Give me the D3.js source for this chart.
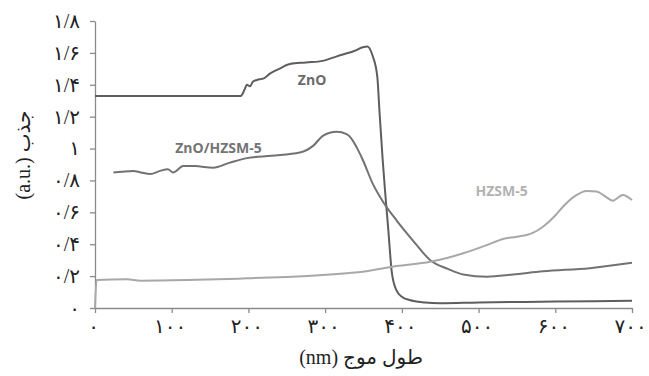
<!DOCTYPE html>
<html>
<head>
<meta charset="utf-8">
<script src="https://cdn.jsdelivr.net/npm/d3@7"></script>
<style>
  body { margin: 0; background: #fff; }
  .tick text { font-family: "Liberation Serif", "DejaVu Sans", serif; font-size: 20px; fill: #222; }
  .x-ax .tick text { letter-spacing: 4px; }
  .series-label { font-family: "Open Sans", Lato, sans-serif; font-weight: bold; font-size: 14px; }
</style>
</head>
<body>
<svg width="649" height="376"></svg>
<script>
// wavelength (nm) / absorbance (a.u.)
const znoX = [0, 190, 195, 198, 202, 206, 211, 220, 228, 240, 254, 275, 297, 310, 323, 337, 349, 355, 362, 368, 371, 375, 378, 382, 387, 393, 400, 410, 430, 450, 500, 600, 700];
const znoY = [1.33, 1.33, 1.37, 1.40, 1.39, 1.42, 1.43, 1.44, 1.47, 1.50, 1.53, 1.54, 1.55, 1.57, 1.59, 1.61, 1.635, 1.64, 1.58, 1.45, 1.22, 0.93, 0.74, 0.51, 0.22, 0.11, 0.07, 0.05, 0.035, 0.03, 0.035, 0.04, 0.045];

const compX = [24, 35, 50, 60, 72, 85, 95, 102, 115, 130, 154, 175, 198, 230, 267, 285, 297, 315, 328, 336, 343, 349, 362, 375, 393, 415, 437, 460, 480, 511, 545, 584, 645, 700];
const compY = [0.85, 0.855, 0.86, 0.85, 0.84, 0.86, 0.87, 0.85, 0.89, 0.89, 0.88, 0.91, 0.94, 0.955, 0.975, 1.02, 1.08, 1.105, 1.09, 1.05, 0.99, 0.93, 0.78, 0.67, 0.55, 0.42, 0.30, 0.245, 0.21, 0.196, 0.21, 0.23, 0.25, 0.284];

const hzsmX = [0, 2, 42, 59, 120, 198, 250, 297, 332, 349, 393, 437, 460, 480, 511, 532, 550, 570, 584, 600, 610, 625, 641, 654, 665, 675, 688, 700];
const hzsmY = [0, 0.175, 0.18, 0.171, 0.175, 0.186, 0.195, 0.207, 0.22, 0.228, 0.263, 0.29, 0.315, 0.343, 0.395, 0.433, 0.447, 0.47, 0.51, 0.58, 0.635, 0.70, 0.734, 0.73, 0.70, 0.673, 0.709, 0.677];

const xTicks = [0, 100, 200, 300, 400, 500, 600, 700];
const xTickLabels = ["۰", "۱۰۰", "۲۰۰", "۳۰۰", "۴۰۰", "۵۰۰", "۶۰۰", "۷۰۰"];
const yTicks = [0, 0.2, 0.4, 0.6, 0.8, 1, 1.2, 1.4, 1.6, 1.8];
const yTickLabels = ["۰", "۰/۲", "۰/۴", "۰/۶", "۰/۸", "۱", "۱/۲", "۱/۴", "۱/۶", "۱/۸"];

const seriesNames = ["ZnO", "ZnO/HZSM-5", "HZSM-5"];

const svg = d3.select("svg");
const x = d3.scaleLinear().domain([0, 700]).range([95, 632]);
const y = d3.scaleLinear().domain([0, 1.8]).range([308, 21]);

// axes
const xAxis = svg.append("g")
    .attr("class", "x-ax")
    .attr("transform", "translate(0,308)")
    .call(d3.axisBottom(x).tickValues(xTicks)
        .tickFormat((d, i) => xTickLabels[i])
        .tickSizeInner(5).tickSizeOuter(0).tickPadding(6));
const yAxis = svg.append("g")
    .attr("transform", "translate(95,0)")
    .call(d3.axisLeft(y).tickValues(yTicks)
        .tickFormat((d, i) => yTickLabels[i])
        .tickSizeInner(5).tickSizeOuter(0).tickPadding(10));
svg.selectAll(".domain, .tick line").attr("stroke", "#8a8a8a").attr("stroke-width", 1.3);
xAxis.selectAll("text").attr("dx", "-2");

// lines
const line = d3.line().x(d => x(d[0])).y(d => y(d[1])).curve(d3.curveMonotoneX);
const series = [
  { pts: d3.zip(znoX, znoY), color: "#5e5e5e" },
  { pts: d3.zip(compX, compY), color: "#727272" },
  { pts: d3.zip(hzsmX, hzsmY), color: "#a8a8a8" }
];
svg.selectAll("path.series")
  .data(series).enter().append("path")
  .attr("class", "series")
  .attr("fill", "none")
  .attr("stroke", d => d.color)
  .attr("stroke-width", 2)
  .attr("d", d => line(d.pts));

// series labels
const labelPos = [[283, 1.4], [161, 0.975], [530, 0.7]];
const labelColors = ["#6a6a6a", "#747474", "#b2b2b2"];
svg.selectAll("text.series-label")
  .data(seriesNames).enter().append("text")
  .attr("class", "series-label")
  .attr("x", (d, i) => x(labelPos[i][0]))
  .attr("y", (d, i) => y(labelPos[i][1]))
  .attr("text-anchor", "middle")
  .attr("fill", (d, i) => labelColors[i])
  .text(d => d);

// axis titles (LTR context: latin part first so it lands on the left)
svg.append("text")
  .attr("transform", "translate(25,155) rotate(-90)")
  .attr("text-anchor", "middle")
  .attr("dominant-baseline", "middle")
  .style("font-family", "'Liberation Serif', 'DejaVu Sans', serif")
  .style("font-size", "20px")
  .attr("fill", "#222")
  .text("(a.u.) جذب");
svg.append("text")
  .attr("x", 361).attr("y", 364)
  .attr("text-anchor", "middle")
  .style("font-family", "'Liberation Serif', 'DejaVu Sans', serif")
  .style("font-size", "20px")
  .attr("fill", "#222")
  .text("(nm) طول موج");
</script>
</body>
</html>
